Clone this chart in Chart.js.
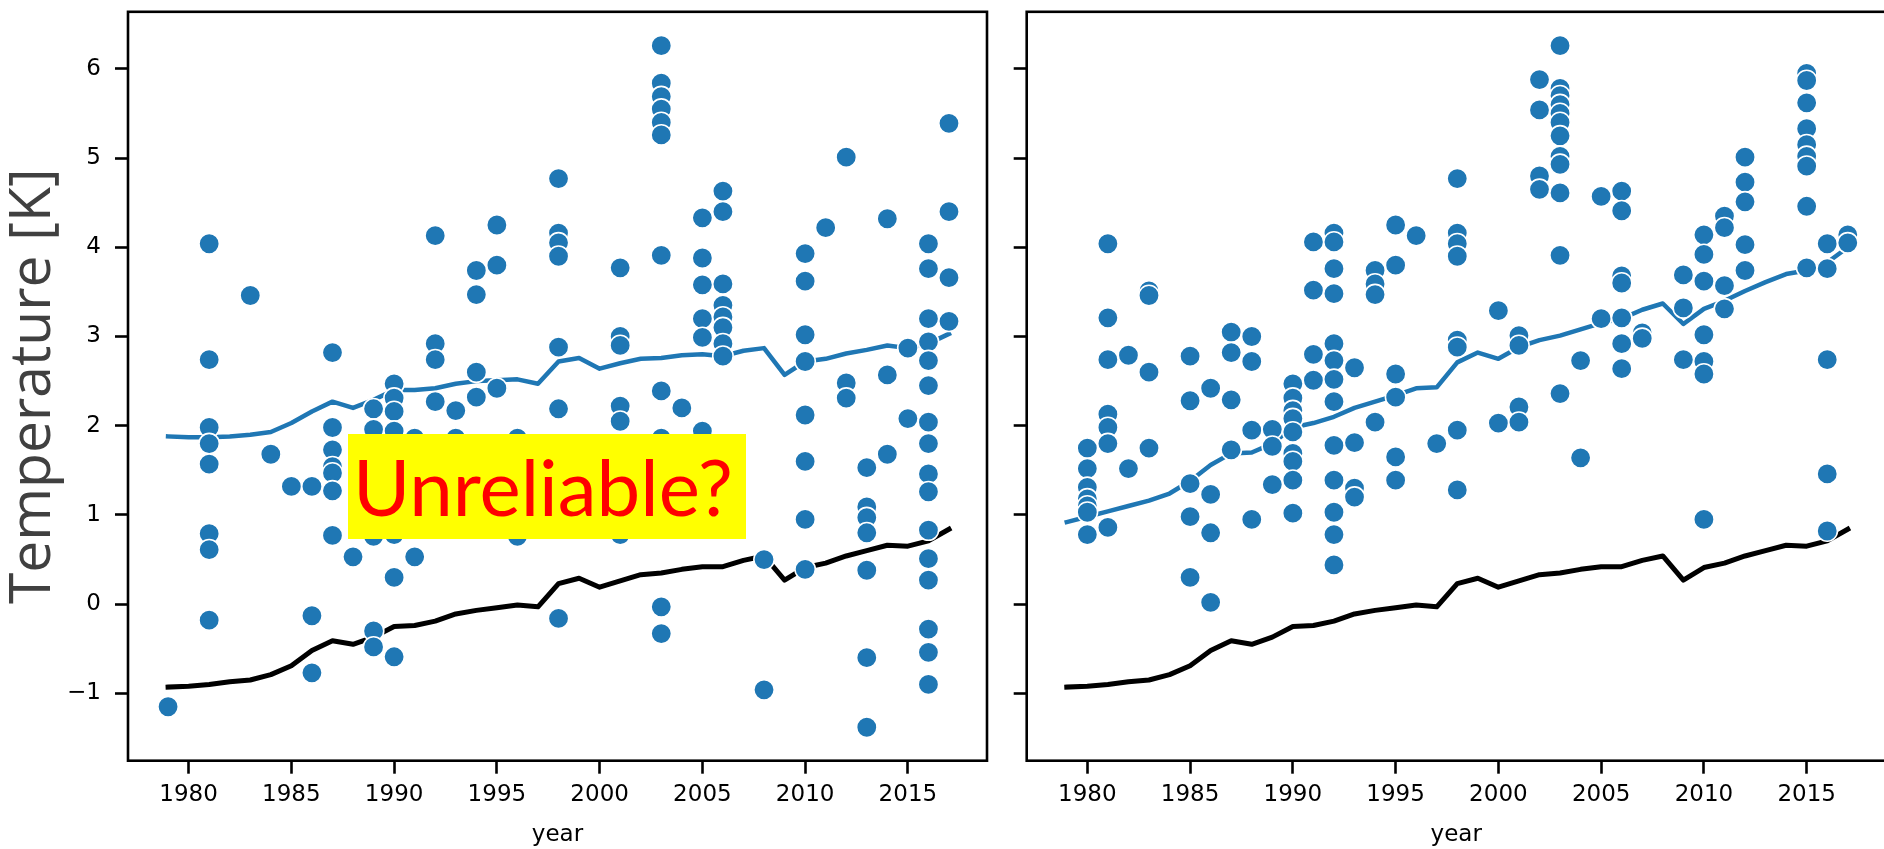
<!DOCTYPE html>
<html>
<head>
<meta charset="utf-8">
<script src="https://cdn.jsdelivr.net/npm/chart.js@4.4.1/dist/chart.umd.min.js"></script>
<style>
  html, body { margin: 0; padding: 0; background: #fff; overflow: hidden; }
  #wrap { position: relative; width: 1884px; height: 849px; overflow: hidden; }
  #left { position: absolute; left: 0; top: 0; }
  #right { position: absolute; left: 1000px; top: 0; }
  #note {
    position: absolute; left: 348px; top: 434px; width: 398px; height: 105px;
    box-sizing: border-box; padding-left: 5px;
    background: #ffff00; color: #ff0000;
    font-family: Lato, "Open Sans", sans-serif; font-size: 78px; line-height: 105px;
    white-space: nowrap;
  }
</style>
</head>
<body>
<div id="wrap">
  <canvas id="left" width="1000" height="849"></canvas>
  <canvas id="right" width="900" height="849"></canvas>
  <div id="note">Unreliable?</div>
</div>
<script>
// ---- data ----
const xTicks = [1980, 1985, 1990, 1995, 2000, 2005, 2010, 2015];
const yTicks = [-1, 0, 1, 2, 3, 4, 5, 6];

const lineYears = [1979, 1980, 1981, 1982, 1983, 1984, 1985, 1986, 1987, 1988,
  1989, 1990, 1991, 1992, 1993, 1994, 1995, 1996, 1997, 1998,
  1999, 2000, 2001, 2002, 2003, 2004, 2005, 2006, 2007, 2008,
  2009, 2010, 2011, 2012, 2013, 2014, 2015, 2016, 2017];

// black line, same in both panels
const globalMean = [-0.93, -0.92, -0.90, -0.87, -0.85, -0.79, -0.69, -0.52, -0.41, -0.45,
  -0.37, -0.25, -0.24, -0.19, -0.11, -0.07, -0.04, -0.01, -0.03, 0.23,
  0.29, 0.19, 0.26, 0.33, 0.35, 0.39, 0.42, 0.42, 0.49, 0.54,
  0.27, 0.41, 0.46, 0.54, 0.60, 0.66, 0.65, 0.71, 0.84];

const leftMean = [1.88, 1.87, 1.87, 1.88, 1.90, 1.93, 2.03, 2.16, 2.27, 2.20,
  2.29, 2.40, 2.40, 2.42, 2.47, 2.50, 2.51, 2.52, 2.47, 2.72,
  2.76, 2.64, 2.70, 2.75, 2.76, 2.79, 2.80, 2.78, 2.84, 2.87,
  2.57, 2.72, 2.75, 2.81, 2.85, 2.90, 2.87, 2.92, 3.03];

const rightMean = [0.92, 0.98, 1.04, 1.10, 1.16, 1.24, 1.38, 1.56, 1.69, 1.70,
  1.80, 1.98, 2.03, 2.10, 2.20, 2.27, 2.34, 2.42, 2.43, 2.71,
  2.82, 2.75, 2.88, 2.96, 3.01, 3.08, 3.15, 3.20, 3.30, 3.37,
  3.14, 3.31, 3.40, 3.51, 3.61, 3.70, 3.74, 3.83, 4.00];

// scatter: one list of temperatures per year
const leftYears = [1979, 1981, 1983, 1984, 1985, 1986, 1987, 1988, 1989, 1990,
  1991, 1992, 1993, 1994, 1995, 1996, 1998, 2001, 2003, 2004,
  2005, 2006, 2008, 2010, 2011, 2012, 2013, 2014, 2015, 2016, 2017];
const leftTemps = [
  [-1.15],
  [4.04, 2.74, 1.98, 1.80, 1.57, 0.79, 0.61, -0.18],
  [3.46],
  [1.68],
  [1.32],
  [1.32, -0.13, -0.77],
  [2.82, 1.98, 1.73, 1.54, 1.47, 1.27, 0.77],
  [0.53],
  [2.19, 1.96, 0.76, -0.30, -0.48],
  [2.47, 2.31, 2.16, 1.94, 0.78, 0.30, -0.59],
  [1.86, 0.53],
  [4.13, 2.92, 2.74, 2.27],
  [2.17, 1.86],
  [3.74, 3.47, 2.60, 2.32],
  [4.25, 3.80, 2.42],
  [1.86, 0.76],
  [4.77, 4.16, 4.05, 3.90, 2.88, 2.19, -0.16],
  [3.77, 3.00, 2.90, 2.22, 2.05, 0.78],
  [6.26, 5.84, 5.69, 5.55, 5.40, 5.26, 3.91, 2.39, 1.86, -0.03, -0.33],
  [2.20],
  [4.33, 3.88, 3.58, 3.20, 2.99, 1.94],
  [4.63, 4.40, 3.59, 3.35, 3.22, 3.10, 2.92, 2.78],
  [0.50, -0.96],
  [3.93, 3.62, 3.02, 2.72, 2.12, 1.60, 0.95, 0.39],
  [4.22],
  [5.01, 2.48, 2.31],
  [1.53, 1.09, 0.97, 0.80, 0.38, -0.60, -1.38],
  [4.32, 2.57, 1.68],
  [2.87, 2.08],
  [4.04, 3.76, 3.20, 2.94, 2.73, 2.45, 2.04, 1.80, 1.46, 1.26, 0.83, 0.51, 0.27, -0.28, -0.54, -0.90],
  [5.39, 4.40, 3.66, 3.17]
];

const rightYears = [1980, 1981, 1982, 1983, 1985, 1986, 1987, 1988, 1989, 1990,
  1991, 1992, 1993, 1994, 1995, 1996, 1997, 1998, 2000, 2001,
  2002, 2003, 2004, 2005, 2006, 2007, 2009, 2010, 2011, 2012,
  2015, 2016, 2017];
const rightTemps = [
  [1.75, 1.52, 1.31, 1.18, 1.10, 1.03, 0.78],
  [4.04, 3.21, 2.74, 2.13, 1.98, 1.80, 0.86],
  [2.79, 1.52],
  [3.51, 3.46, 2.60, 1.75],
  [2.78, 2.28, 1.35, 0.98, 0.30],
  [2.42, 1.23, 0.80, 0.02],
  [3.05, 2.82, 2.29, 1.73],
  [3.00, 2.72, 1.95, 0.95],
  [1.96, 1.77, 1.34],
  [2.47, 2.31, 2.17, 2.08, 1.93, 1.69, 1.60, 1.39, 1.02],
  [4.06, 3.52, 2.80, 2.51],
  [4.16, 4.06, 3.76, 3.48, 2.92, 2.73, 2.52, 2.27, 1.78, 1.39, 1.03, 0.78, 0.44],
  [2.65, 1.81, 1.30, 1.20],
  [3.74, 3.59, 3.47, 2.04],
  [4.25, 3.80, 2.58, 2.32, 1.65, 1.39],
  [4.13],
  [1.80],
  [4.77, 4.16, 4.04, 3.90, 2.96, 2.88, 1.95, 1.28],
  [3.29, 2.03],
  [3.01, 2.90, 2.21, 2.04],
  [5.88, 5.54, 4.80, 4.65],
  [6.26, 5.78, 5.70, 5.60, 5.50, 5.40, 5.25, 5.02, 4.93, 4.61, 3.91, 2.36],
  [2.73, 1.64],
  [4.57, 3.20],
  [4.63, 4.41, 3.68, 3.60, 3.21, 2.92, 2.64],
  [3.04, 2.98],
  [3.69, 3.32, 2.74],
  [4.14, 3.92, 3.62, 3.02, 2.72, 2.58, 0.95],
  [4.35, 4.22, 3.57, 3.31],
  [5.01, 4.73, 4.51, 4.03, 3.74],
  [5.95, 5.87, 5.62, 5.33, 5.15, 5.02, 4.91, 4.46, 3.77],
  [4.04, 3.76, 2.74, 1.46, 0.82],
  [4.14, 4.05]
];

// ---- helpers ----
const BLUE = '#1f77b4';
const toPoints = (xs, ys) => xs.map((x, i) => ({ x: x, y: ys[i] }));
const toScatter = (years, temps) => years.flatMap((yr, i) => temps[i].map(t => ({ x: yr, y: t })));

// matplotlib-like box around the axes
const spines = {
  id: 'spines',
  afterDatasetsDraw(chart) {
    const { ctx, chartArea: a } = chart;
    ctx.save();
    ctx.strokeStyle = '#000';
    ctx.lineWidth = 2.6;
    ctx.strokeRect(a.left, a.top, a.right - a.left, a.bottom - a.top);
    ctx.restore();
  }
};

// no extra room for half labels at the ends of an axis
const noPad = s => { s.paddingTop = 0; s.paddingBottom = 0; s.paddingLeft = 0; s.paddingRight = 0; };

function panel(id, scatterPts, meanVals, opts) {
  return new Chart(document.getElementById(id), {
    type: 'scatter',
    data: {
      datasets: [
        {
          data: scatterPts, order: 0,
          backgroundColor: BLUE, borderColor: '#fff',
          pointRadius: 10.2, pointBorderWidth: 1.6, pointHoverRadius: 10.2
        },
        {
          data: toPoints(lineYears, meanVals), order: 1, showLine: true,
          borderColor: BLUE, borderWidth: 4.5, pointRadius: 0,
          borderJoinStyle: 'round', borderCapStyle: 'square'
        },
        {
          data: toPoints(lineYears, globalMean), order: 2, showLine: true,
          borderColor: '#000', borderWidth: 5, pointRadius: 0,
          borderJoinStyle: 'round', borderCapStyle: 'square'
        }
      ]
    },
    options: {
      responsive: false,
      animation: false,
      devicePixelRatio: 1,
      layout: { padding: { top: 8, right: opts.padRight, left: 0, bottom: 0 } },
      plugins: { legend: { display: false }, tooltip: { enabled: false } },
      scales: {
        x: {
          type: 'linear', min: 1977.05, max: 2018.85,
          afterBuildTicks: s => { s.ticks = xTicks.map(v => ({ value: v })); },
          afterFit: s => { s.height = 88.3; noPad(s); },
          grid: { drawOnChartArea: false, drawTicks: true, tickLength: 13, tickWidth: 2.6, tickColor: '#000' },
          border: { display: false },
          ticks: {
            color: '#000', padding: 8,
            font: { family: 'DejaVu Sans', size: 23 },
            callback: v => String(v)
          },
          title: {
            display: true, text: 'year', color: '#000',
            font: { family: 'DejaVu Sans', size: 23 },
            padding: { top: 0, bottom: 0 }
          }
        },
        y: {
          type: 'linear', min: -1.755, max: 6.64,
          afterBuildTicks: s => { s.ticks = yTicks.map(v => ({ value: v })); },
          afterFit: s => { s.width = opts.yWidth; noPad(s); },
          grid: { drawOnChartArea: false, drawTicks: true, tickLength: 13, tickWidth: 2.6, tickColor: '#000' },
          border: { display: false },
          ticks: {
            display: opts.yLabels, color: '#000', padding: 14,
            font: { family: 'DejaVu Sans', size: 23 },
            callback: v => String(v).replace('-', '\u2212')
          },
          title: {
            display: opts.yLabels, text: 'Temperature [K]', color: '#404040',
            font: { family: 'Open Sans', size: 57 },
            padding: { top: 0, bottom: 0 }
          }
        }
      }
    },
    plugins: [spines]
  });
}

panel('left', toScatter(leftYears, leftTemps), leftMean, { padRight: 13, yWidth: 128, yLabels: true });
panel('right', toScatter(rightYears, rightTemps), rightMean, { padRight: 14.2, yWidth: 26.7, yLabels: false });
</script>
</body>
</html>
